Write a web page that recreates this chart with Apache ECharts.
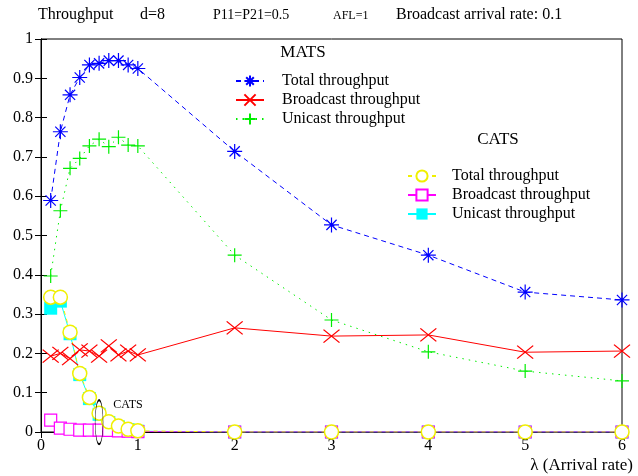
<!DOCTYPE html>
<html>
<head>
<meta charset="utf-8">
<script src="https://cdn.jsdelivr.net/npm/echarts@6/dist/echarts.min.js"></script>
<style>
  html, body { margin: 0; background: #fff; }
  #chart { width: 638px; height: 476px; }
</style>
</head>
<body>
<div id="chart"></div>
<script>
// arrival rates (x)
const lambdas = [0.1, 0.2, 0.3, 0.4, 0.5, 0.6, 0.7, 0.8, 0.9, 1, 2, 3, 4, 5, 6]

// MATS
const matsTotal = [0.589, 0.764, 0.858, 0.902, 0.934, 0.938, 0.945, 0.945, 0.934, 0.925, 0.714, 0.527, 0.450, 0.356, 0.336]
const matsBroadcast = [0.193, 0.200, 0.187, 0.209, 0.206, 0.193, 0.219, 0.196, 0.206, 0.196, 0.265, 0.244, 0.247, 0.203, 0.206]
const matsUnicast = [0.397, 0.563, 0.671, 0.696, 0.728, 0.745, 0.726, 0.750, 0.730, 0.728, 0.450, 0.285, 0.204, 0.155, 0.130]

// CATS
const catsTotal = [0.343, 0.343, 0.254, 0.149, 0.088, 0.048, 0.026, 0.015, 0.007, 0.003, 0, 0, 0, 0, 0]
const catsBroadcast = [0.030, 0.010, 0.007, 0.005, 0.005, 0.005, 0.004, 0.003, 0.002, 0.001, 0, 0, 0, 0, 0]
const catsUnicast = [0.315, 0.333, 0.250, 0.146, 0.085, 0.045, 0.024, 0.013, 0.006, 0.002, 0, 0, 0, 0, 0]

const yTicks = [0, 0.1, 0.2, 0.3, 0.4, 0.5, 0.6, 0.7, 0.8, 0.9, 1]
const xTicks = [0, 1, 2, 3, 4, 5, 6]

const SERIF = '"Liberation Serif", "DejaVu Serif", serif'
const pts = (arr) => lambdas.map((x, i) => [x, arr[i]])

const ASTERISK = 'path://M0,5L10,5M5,0L5,10M1.6,1.6L8.4,8.4M8.4,1.6L1.6,8.4'
const CROSS = 'path://M0,0L10,10M10,0L0,10'
const PLUS = 'path://M5,0L5,10M0,5L10,5'
const ELLIPSE = 'path://M10,0A10,10 0 1,1 10,20A10,10 0 1,1 10,0Z'

const strokeSeries = (name, data, color, symbol, size, lineType) => ({
  name,
  type: 'line',
  data: pts(data),
  symbol,
  symbolSize: size,
  lineStyle: { color, width: 1, type: lineType },
  itemStyle: { color: 'rgba(0,0,0,0)', borderColor: color, borderWidth: 1.2 },
})

const txt = (text, left, top, size, extra) => ({
  text,
  left,
  top,
  padding: 0,
  textStyle: { fontFamily: SERIF, fontSize: size, fontWeight: 'normal', color: '#000' },
  ...extra,
})

const chart = echarts.init(document.getElementById('chart'))

chart.setOption({
  animation: false,
  title: [
    txt('Throughput', 38, 7, 16),
    txt('d=8', 140, 7, 16),
    txt('P11=P21=0.5', 213, 8, 14),
    txt('AFL=1', 333, 10, 12),
    txt('Broadcast arrival rate: 0.1', 396, 7, 16),
    txt('MATS', 303, 44, 17, { textAlign: 'center' }),
    txt('CATS', 498, 131, 17, { textAlign: 'center' }),
    txt('λ (Arrival rate)', null, 457, 17, { right: 5 }),
  ],
  legend: [
    {
      data: ['Total throughput', 'Broadcast throughput', 'Unicast throughput'].map((n) => 'MATS ' + n),
      formatter: (n) => n.replace('MATS ', ''),
      orient: 'vertical',
      left: 235,
      top: 73,
      itemWidth: 28,
      itemHeight: 14,
      itemGap: 3,
      padding: 0,
      textStyle: { fontFamily: SERIF, fontSize: 16, color: '#000', padding: [0, 0, 0, 13] },
    },
    {
      data: ['Total throughput', 'Broadcast throughput', 'Unicast throughput'].map((n) => 'CATS ' + n),
      formatter: (n) => n.replace('CATS ', ''),
      orient: 'vertical',
      left: 407,
      top: 168,
      itemWidth: 28,
      itemHeight: 14,
      itemGap: 3,
      padding: 0,
      textStyle: { fontFamily: SERIF, fontSize: 16, color: '#000', padding: [0, 0, 0, 11] },
    },
  ],
  grid: { left: 41, right: 16, top: 39, bottom: 44, show: true, borderColor: '#000', borderWidth: 1 },
  xAxis: [
    {
      type: 'value',
      min: xTicks[0],
      max: xTicks[xTicks.length - 1],
      interval: 1,
      axisLine: { lineStyle: { color: '#000' } },
      axisTick: { inside: true, length: 6, lineStyle: { color: '#000' } },
      axisLabel: { fontFamily: SERIF, fontSize: 16, color: '#000', margin: 6 },
      splitLine: { show: false },
    },
    {
      type: 'value',
      position: 'top',
      min: xTicks[0],
      max: xTicks[xTicks.length - 1],
      interval: 1,
      axisLine: { lineStyle: { color: '#000' } },
      axisTick: { inside: true, length: 6, lineStyle: { color: '#000' } },
      axisLabel: { show: false },
      splitLine: { show: false },
    },
  ],
  yAxis: [
    {
      type: 'value',
      min: yTicks[0],
      max: yTicks[yTicks.length - 1],
      interval: 0.1,
      axisLine: { show: true, lineStyle: { color: '#000' } },
      axisTick: { show: true, inside: true, length: 6, lineStyle: { color: '#000' } },
      axisLabel: { fontFamily: SERIF, fontSize: 16, color: '#000', margin: 8 },
      splitLine: { show: false },
    },
    {
      type: 'value',
      position: 'right',
      min: yTicks[0],
      max: yTicks[yTicks.length - 1],
      interval: 0.1,
      axisLine: { show: true, lineStyle: { color: '#000' } },
      axisTick: { show: true, inside: true, length: 6, lineStyle: { color: '#000' } },
      axisLabel: { show: false },
      splitLine: { show: false },
    },
  ],
  series: [
    strokeSeries('MATS Total throughput', matsTotal, '#0000ff', ASTERISK, 15, [5, 4]),
    strokeSeries('MATS Broadcast throughput', matsBroadcast, '#ff0000', CROSS, [16, 13], 'solid'),
    strokeSeries('MATS Unicast throughput', matsUnicast, '#00ee00', PLUS, 14, [1.5, 5]),
    {
      name: 'CATS Unicast throughput',
      type: 'line',
      data: pts(catsUnicast),
      symbol: 'rect',
      symbolSize: 13,
      lineStyle: { color: '#00ffff', width: 1 },
      itemStyle: { color: '#00ffff' },
    },
    {
      name: 'CATS Broadcast throughput',
      type: 'line',
      data: pts(catsBroadcast),
      symbol: 'rect',
      symbolSize: 12,
      lineStyle: { color: '#ff00ff', width: 1 },
      itemStyle: { color: '#ffffff', borderColor: '#ff00ff', borderWidth: 1.2 },
    },
    {
      name: 'CATS Total throughput',
      type: 'line',
      data: pts(catsTotal),
      symbol: 'circle',
      symbolSize: 14,
      lineStyle: { color: '#f0f000', width: 1, type: [4, 4] },
      itemStyle: { color: '#ffffff', borderColor: '#f0f000', borderWidth: 1.5 },
      markPoint: {
        symbol: ELLIPSE,
        symbolSize: [8, 44],
        itemStyle: { color: 'rgba(0,0,0,0)', borderColor: '#000', borderWidth: 1 },
        label: {
          show: true,
          formatter: 'CATS',
          position: 'right',
          distance: 10,
          offset: [0, -17],
          fontFamily: SERIF,
          fontSize: 12,
          color: '#000',
        },
        data: [{ coord: [0.6, 0.025] }],
      },
    },
  ],
})
</script>
</body>
</html>
